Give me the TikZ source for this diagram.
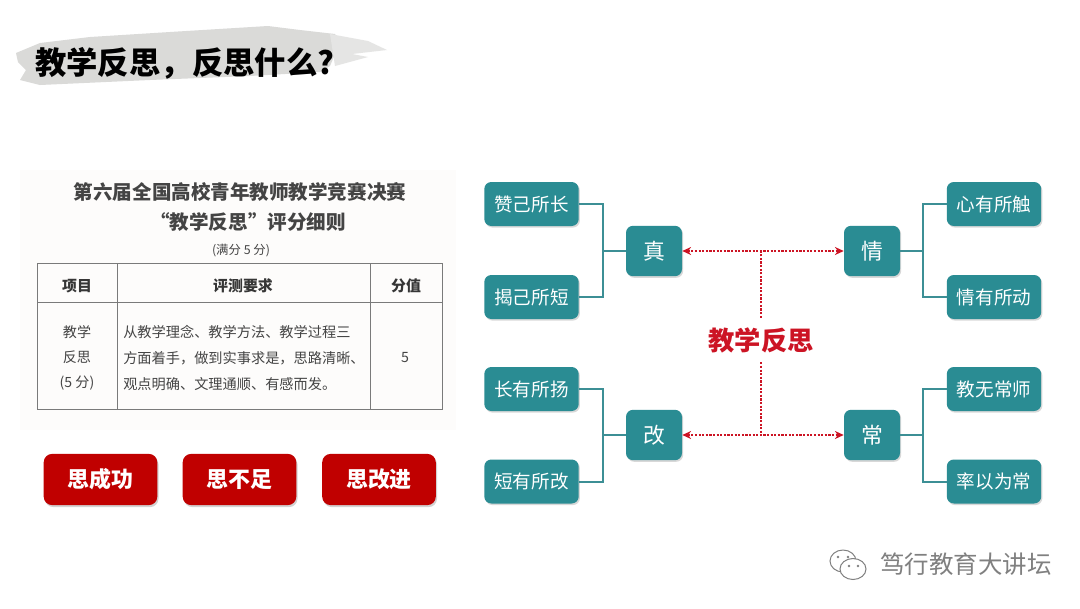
\documentclass[tikz,border=0pt]{standalone}
\usepackage{fontspec}
\setmainfont{Noto Sans CJK SC}
\usetikzlibrary{arrows.meta, positioning, calc, shadows}
\definecolor{brushGray}{HTML}{DADAD8}
\definecolor{paperGray}{HTML}{FDFCFB}
\definecolor{gridGray}{HTML}{7A7A7A}
\definecolor{inkGray}{HTML}{444444}
\definecolor{markGray}{HTML}{808080}
\definecolor{btnRed}{HTML}{C00000}
\definecolor{labelRed}{HTML}{CC1424}
\definecolor{tealBox}{HTML}{2A8C93}
\definecolor{tealLine}{HTML}{3C8F95}
\tikzset{
  arrowR/.style={{Stealth[length=2.2mm, width=2mm]}-{Stealth[length=2.2mm, width=2mm]}, labelRed, line width=0.55mm, densely dotted},
  lineR/.style={labelRed, line width=0.55mm, densely dotted},
  lineT/.style={tealLine, line width=0.5mm},
  boxLeaf/.style={rectangle, rounded corners=5pt, fill=tealBox, text=white,
                  align=center, font=\fontsize{13.2}{15}\selectfont, inner sep=0pt,
                  minimum width=23.6mm, minimum height=11mm, drop shadow={shadow xshift=0.3mm, shadow yshift=-0.4mm, opacity=0.3}},
  boxHub/.style={rectangle, rounded corners=5pt, fill=tealBox, text=white,
                 align=center, font=\fontsize{15.5}{18}\selectfont, inner sep=0pt,
                 minimum width=14mm, minimum height=12.6mm, drop shadow={shadow xshift=0.3mm, shadow yshift=-0.4mm, opacity=0.3}},
  boxBtn/.style={rectangle, rounded corners=6pt, fill=btnRed, text=white,
                 align=center, font=\bfseries\fontsize{15.6}{18}\selectfont, inner sep=0pt,
                 minimum width=28.4mm, minimum height=12.8mm, drop shadow={shadow xshift=0.3mm, shadow yshift=-0.5mm, opacity=0.35}},
  cellT/.style={inner sep=0pt, text=inkGray, align=center, font=\fontsize{10.1}{18.4}\selectfont},
  headT/.style={inner sep=0pt, text=inkGray!80!black, font=\bfseries\fontsize{10.6}{13}\selectfont},
  gridT/.style={gridGray, line width=0.2mm},
}
\begin{document}
\begin{tikzpicture}[x=0.25mm, y=-0.25mm]
  \useasboundingbox (0,0) rectangle (1080,608);
  \fill[white] (0,0) rectangle (1080,608);
  % title brush
  \fill[brushGray] (16,53) -- (40,43) -- (90,37) -- (170,32) -- (268,26) -- (300,30) -- (335,34)
    -- (340,42) -- (330,66) -- (320,72) -- (250,76)
    -- (150,80) -- (40,85) -- (20,80) -- (26,70) -- (18,62) -- cycle;
  \fill[brushGray!70] (330,34) -- (368,41) -- (387,50) -- (352,54) -- (368,57) -- (335,66) -- cycle;
  \node[inner sep=0pt, anchor=west, font=\bfseries\fontsize{22.3}{26}\selectfont] (title) at (35,63) {教学反思，反思什么?};

  % scanned rules
  \fill[paperGray] (20,170) rectangle (456,430);
  \node[cellT, font=\bfseries\fontsize{13.9}{16}\selectfont] (rulesA) at (240,192) {第六届全国高校青年教师教学竞赛决赛};
  \node[cellT, font=\bfseries\fontsize{13.9}{16}\selectfont] (rulesB) at (248,222) {“教学反思”评分细则};
  \node[cellT, font=\fontsize{8.8}{11}\selectfont] (rulesC) at (241,251) {(满分 5 分)};
  \draw[gridT] (37,263) rectangle (442,409);
  \draw[gridT] (37,302) -- (442,302);
  \draw[gridT] (117,263) -- (117,409);
  \draw[gridT] (370,263) -- (370,409);
  \node[headT] (headA) at (77,286) {项目};
  \node[headT] (headB) at (243,286) {评测要求};
  \node[headT] (headC) at (406,286) {分值};
  \node[cellT, font=\fontsize{10}{17.5}\selectfont] (cellA) at (77,358) {教学\\反思\\(5 分)};
  \node[cellT, align=left, anchor=west] (cellB) at (123,358) {从教学理念、教学方法、教学过程三\\方面着手，做到实事求是，思路清晰、\\观点明确、文理通顺、有感而发。};
  \node[cellT] (cellC) at (405,358) {5};

  \node[boxBtn] (btnA) at (100.5,479.5) {思成功};
  \node[boxBtn] (btnB) at (239.5,479.5) {思不足};
  \node[boxBtn] (btnC) at (379,479.5) {思改进};

  % left hubs
  \node[boxHub] (zhen) at (654,251) {真};
  \node[boxHub] (gai) at (654,435) {改};
  \node[boxLeaf] (zan) at (531.5,204) {赞己所长};
  \node[boxLeaf] (jie) at (531.5,297) {揭己所短};
  \node[boxLeaf] (chang) at (531.5,389) {长有所扬};
  \node[boxLeaf] (duan) at (531.5,481.5) {短有所改};
  % right hubs
  \node[boxHub] (qing) at (872,251) {情};
  \node[boxHub] (cha) at (872,435) {常};
  \node[boxLeaf] (xin) at (994,204) {心有所触};
  \node[boxLeaf] (you) at (994,297) {情有所动};
  \node[boxLeaf] (wu) at (994,389) {教无常师};
  \node[boxLeaf] (lv) at (994,481.5) {率以为常};

  \coordinate (jzhen) at ($(zhen.west)+(-23,0)$);
  \coordinate (jgai) at ($(gai.west)+(-23,0)$);
  \coordinate (jqing) at ($(qing.east)+(23,0)$);
  \coordinate (jcha) at ($(cha.east)+(23,0)$);
  \draw[lineT] (zan.east) -| (jzhen) -- (zhen.west);
  \draw[lineT] (jie.east) -| (jzhen);
  \draw[lineT] (chang.east) -| (jgai) -- (gai.west);
  \draw[lineT] (duan.east) -| (jgai);
  \draw[lineT] (xin.west) -| (jqing) -- (qing.east);
  \draw[lineT] (you.west) -| (jqing);
  \draw[lineT] (wu.west) -| (jcha) -- (cha.east);
  \draw[lineT] (lv.west) -| (jcha);

  % centre label
  \node[text=labelRed, inner sep=0pt, minimum height=11mm, font=\bfseries\fontsize{18.7}{22}\selectfont] (fansi) at (761,340) {教学反思};
  \draw[arrowR] (zhen.east) -- (qing.west);
  \draw[arrowR] (gai.east) -- (cha.west);
  \draw[lineR] (fansi.north) -- (fansi.north |- zhen.east);
  \draw[lineR] (fansi.south) -- (fansi.south |- gai.east);

  % watermark
  \node[text=markGray, inner sep=0pt, font=\fontsize{17.4}{20}\selectfont] (mark) at (966,564) {笃行教育大讲坛};
  \draw[markGray, fill=white, line width=0.25mm] (843,561) ellipse (13 and 11);
  \draw[markGray, fill=white, line width=0.25mm] (853,569) ellipse (13 and 10.5);
  \fill[markGray] (838,557) circle (1.3) (848,557) circle (1.3) (849,566) circle (1.3) (858,566) circle (1.3);
\end{tikzpicture}
\end{document}
